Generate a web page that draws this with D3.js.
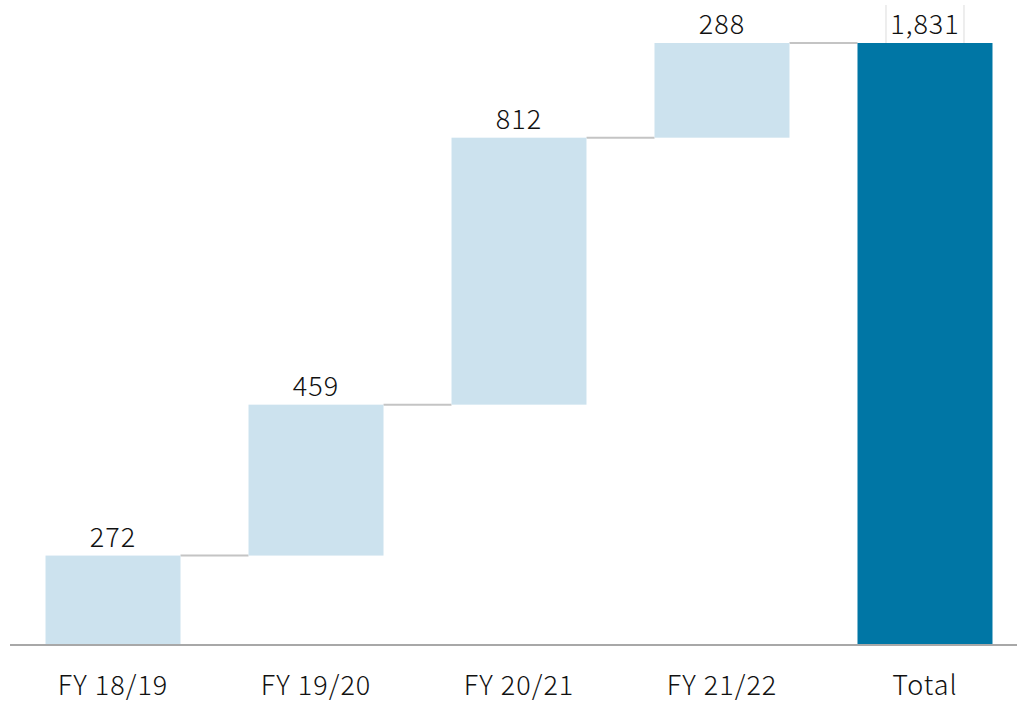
<!DOCTYPE html>
<html>
<head>
<meta charset="utf-8">
<script src="https://cdn.jsdelivr.net/npm/d3@7"></script>
<style>
  body { margin: 0; background: #fff; }
  text { font-family: "Noto Sans CJK JP", "Noto Sans", sans-serif; fill: #111; font-weight: 300; letter-spacing: 1px; }
</style>
</head>
<body>
<script>
// waterfall data
var categories = ["FY 18/19", "FY 19/20", "FY 20/21", "FY 21/22", "Total"];
var values = [272, 459, 812, 288, 1831];
var valueLabels = ["272", "459", "812", "288", "1,831"];

var W = 1017, H = 704;
var margin = {top: 43, right: 0, bottom: 59, left: 10};
var width = W - margin.left - margin.right,
    height = H - margin.top - margin.bottom;

// build running start/end
var run = 0;
var data = categories.map(function(c, i) {
  var isTotal = i === categories.length - 1;
  var d = {name: c, label: valueLabels[i], total: isTotal};
  if (isTotal) { d.y0 = 0; d.y1 = values[i]; }
  else { d.y0 = run; d.y1 = run + values[i]; run = d.y1; }
  return d;
});

var svg = d3.select("body").append("svg")
    .attr("width", W)
    .attr("height", H)
  .append("g")
    .attr("transform", "translate(" + margin.left + "," + margin.top + ")");

var x = d3.scaleBand().domain(categories).range([1, 1017]).paddingInner(0.335).paddingOuter(0.17);
var y = d3.scaleLinear().domain([0, d3.max(values)]).range([height, 0]);

// connectors
data.forEach(function(d, i) {
  if (i === data.length - 1) return;
  var top = y(d.y1);
  svg.append("line")
    .attr("x1", x(d.name) + x.bandwidth())
    .attr("x2", x(data[i + 1].name))
    .attr("y1", top).attr("y2", top)
    .attr("stroke", "#c4c4c4")
    .attr("stroke-width", 2);
});

// bars
svg.selectAll(".bar")
  .data(data)
  .enter().append("rect")
    .attr("x", function(d) { return x(d.name); })
    .attr("width", x.bandwidth())
    .attr("y", function(d) { return y(d.y1); })
    .attr("height", function(d) { return y(d.y0) - y(d.y1); })
    .attr("fill", function(d) { return d.total ? "#0076a5" : "#cce2ee"; });

// thin box lines beside the total label
var tot = data[data.length - 1];
[x(tot.name) + x.bandwidth() / 2 - 39, x(tot.name) + x.bandwidth() / 2 + 39].forEach(function(px) {
  svg.append("line")
    .attr("x1", px).attr("x2", px)
    .attr("y1", y(tot.y1) - 38).attr("y2", y(tot.y1))
    .attr("stroke", "#dcdcdc").attr("stroke-width", 1);
});

// value labels
svg.selectAll(".val")
  .data(data)
  .enter().append("text")
    .attr("x", function(d) { return x(d.name) + x.bandwidth() / 2; })
    .attr("y", function(d) { return y(d.y1) - 9; })
    .attr("text-anchor", "middle")
    .style("font-size", "27px")
    .text(function(d) { return d.label; });

// x axis
var xAxis = svg.append("g")
    .attr("transform", "translate(0," + height + ")")
    .call(d3.axisBottom(x).tickSize(0).tickPadding(31));
xAxis.select(".domain").attr("stroke", "#a8a8a8").attr("stroke-width", 2).attr("d", "M0,0H" + (W - margin.left));
xAxis.selectAll("text")
    .style("font-size", "27px")
    .attr("fill", "#111");
</script>
</body>
</html>
